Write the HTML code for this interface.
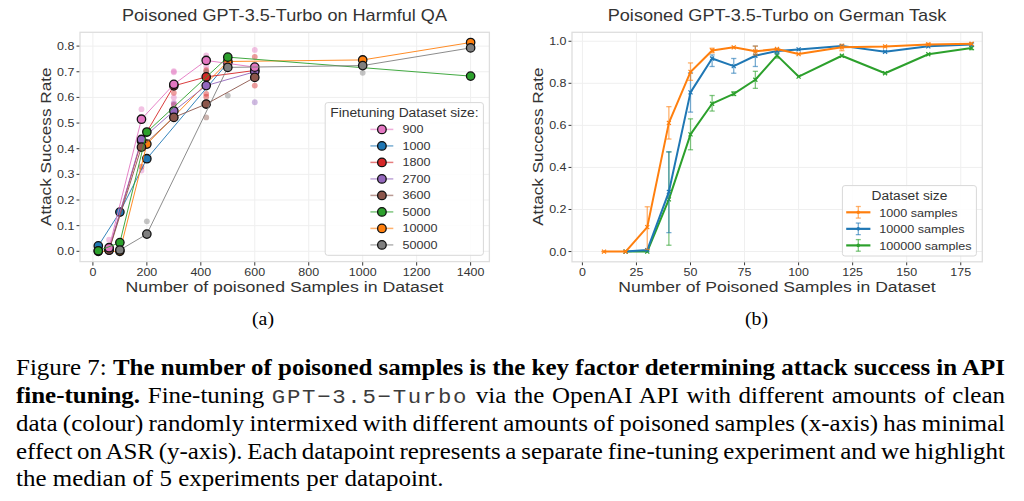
<!DOCTYPE html>
<html><head><meta charset="utf-8"><style>
html,body{margin:0;padding:0;background:#fff;}
body{width:1024px;height:501px;overflow:hidden;position:relative;}
svg{position:absolute;left:0;top:0;font-family:"Liberation Sans", sans-serif;}
.sub{position:absolute;font-family:"Liberation Serif",serif;font-size:19.5px;color:#000;line-height:1;transform:scaleX(1.015);transform-origin:0 0;}
.cap{position:absolute;left:16px;top:0;width:907.3px;font-family:"Liberation Serif",serif;font-size:22.9px;color:#000;transform:scaleX(1.09);transform-origin:0 0;}
.ln{position:absolute;left:0;width:907.34px;white-space:nowrap;text-align:justify;text-align-last:justify;height:28px;line-height:28px;}
.mono{font-family:"Liberation Mono",monospace;font-size:20.5px;letter-spacing:1.55px;color:#3c3c3c;}
b{font-weight:bold;}
</style></head><body>
<svg width="1024" height="320" viewBox="0 0 1024 320">
<line x1="92.90" y1="32.3" x2="92.90" y2="261.6" stroke="#efefef" stroke-width="1"/>
<line x1="146.86" y1="32.3" x2="146.86" y2="261.6" stroke="#efefef" stroke-width="1"/>
<line x1="200.82" y1="32.3" x2="200.82" y2="261.6" stroke="#efefef" stroke-width="1"/>
<line x1="254.78" y1="32.3" x2="254.78" y2="261.6" stroke="#efefef" stroke-width="1"/>
<line x1="308.74" y1="32.3" x2="308.74" y2="261.6" stroke="#efefef" stroke-width="1"/>
<line x1="362.70" y1="32.3" x2="362.70" y2="261.6" stroke="#efefef" stroke-width="1"/>
<line x1="416.66" y1="32.3" x2="416.66" y2="261.6" stroke="#efefef" stroke-width="1"/>
<line x1="470.62" y1="32.3" x2="470.62" y2="261.6" stroke="#efefef" stroke-width="1"/>
<line x1="80.0" y1="251.30" x2="489.4" y2="251.30" stroke="#efefef" stroke-width="1"/>
<line x1="80.0" y1="225.65" x2="489.4" y2="225.65" stroke="#efefef" stroke-width="1"/>
<line x1="80.0" y1="200.00" x2="489.4" y2="200.00" stroke="#efefef" stroke-width="1"/>
<line x1="80.0" y1="174.35" x2="489.4" y2="174.35" stroke="#efefef" stroke-width="1"/>
<line x1="80.0" y1="148.70" x2="489.4" y2="148.70" stroke="#efefef" stroke-width="1"/>
<line x1="80.0" y1="123.05" x2="489.4" y2="123.05" stroke="#efefef" stroke-width="1"/>
<line x1="80.0" y1="97.40" x2="489.4" y2="97.40" stroke="#efefef" stroke-width="1"/>
<line x1="80.0" y1="71.75" x2="489.4" y2="71.75" stroke="#efefef" stroke-width="1"/>
<line x1="80.0" y1="46.10" x2="489.4" y2="46.10" stroke="#efefef" stroke-width="1"/>
<rect x="80.0" y="32.3" width="409.40" height="229.30" fill="none" stroke="#dedede" stroke-width="1.3"/>
<line x1="92.90" y1="262.20000000000005" x2="92.90" y2="265.6" stroke="#3a3a3a" stroke-width="1"/>
<text x="92.90" y="275.80" font-size="11.2" text-anchor="middle" fill="#333333" textLength="6.93" lengthAdjust="spacingAndGlyphs" >0</text>
<line x1="146.86" y1="262.20000000000005" x2="146.86" y2="265.6" stroke="#3a3a3a" stroke-width="1"/>
<text x="146.86" y="275.80" font-size="11.2" text-anchor="middle" fill="#333333" textLength="20.8" lengthAdjust="spacingAndGlyphs" >200</text>
<line x1="200.82" y1="262.20000000000005" x2="200.82" y2="265.6" stroke="#3a3a3a" stroke-width="1"/>
<text x="200.82" y="275.80" font-size="11.2" text-anchor="middle" fill="#333333" textLength="20.8" lengthAdjust="spacingAndGlyphs" >400</text>
<line x1="254.78" y1="262.20000000000005" x2="254.78" y2="265.6" stroke="#3a3a3a" stroke-width="1"/>
<text x="254.78" y="275.80" font-size="11.2" text-anchor="middle" fill="#333333" textLength="20.8" lengthAdjust="spacingAndGlyphs" >600</text>
<line x1="308.74" y1="262.20000000000005" x2="308.74" y2="265.6" stroke="#3a3a3a" stroke-width="1"/>
<text x="308.74" y="275.80" font-size="11.2" text-anchor="middle" fill="#333333" textLength="20.8" lengthAdjust="spacingAndGlyphs" >800</text>
<line x1="362.70" y1="262.20000000000005" x2="362.70" y2="265.6" stroke="#3a3a3a" stroke-width="1"/>
<text x="362.70" y="275.80" font-size="11.2" text-anchor="middle" fill="#333333" textLength="27.74" lengthAdjust="spacingAndGlyphs" >1000</text>
<line x1="416.66" y1="262.20000000000005" x2="416.66" y2="265.6" stroke="#3a3a3a" stroke-width="1"/>
<text x="416.66" y="275.80" font-size="11.2" text-anchor="middle" fill="#333333" textLength="27.74" lengthAdjust="spacingAndGlyphs" >1200</text>
<line x1="470.62" y1="262.20000000000005" x2="470.62" y2="265.6" stroke="#3a3a3a" stroke-width="1"/>
<text x="470.62" y="275.80" font-size="11.2" text-anchor="middle" fill="#333333" textLength="27.74" lengthAdjust="spacingAndGlyphs" >1400</text>
<line x1="76.5" y1="251.30" x2="79.4" y2="251.30" stroke="#3a3a3a" stroke-width="1"/>
<text x="74.40" y="255.30" font-size="11.2" text-anchor="end" fill="#333333" textLength="17.33" lengthAdjust="spacingAndGlyphs" >0.0</text>
<line x1="76.5" y1="225.65" x2="79.4" y2="225.65" stroke="#3a3a3a" stroke-width="1"/>
<text x="74.40" y="229.65" font-size="11.2" text-anchor="end" fill="#333333" textLength="17.33" lengthAdjust="spacingAndGlyphs" >0.1</text>
<line x1="76.5" y1="200.00" x2="79.4" y2="200.00" stroke="#3a3a3a" stroke-width="1"/>
<text x="74.40" y="204.00" font-size="11.2" text-anchor="end" fill="#333333" textLength="17.33" lengthAdjust="spacingAndGlyphs" >0.2</text>
<line x1="76.5" y1="174.35" x2="79.4" y2="174.35" stroke="#3a3a3a" stroke-width="1"/>
<text x="74.40" y="178.35" font-size="11.2" text-anchor="end" fill="#333333" textLength="17.33" lengthAdjust="spacingAndGlyphs" >0.3</text>
<line x1="76.5" y1="148.70" x2="79.4" y2="148.70" stroke="#3a3a3a" stroke-width="1"/>
<text x="74.40" y="152.70" font-size="11.2" text-anchor="end" fill="#333333" textLength="17.33" lengthAdjust="spacingAndGlyphs" >0.4</text>
<line x1="76.5" y1="123.05" x2="79.4" y2="123.05" stroke="#3a3a3a" stroke-width="1"/>
<text x="74.40" y="127.05" font-size="11.2" text-anchor="end" fill="#333333" textLength="17.33" lengthAdjust="spacingAndGlyphs" >0.5</text>
<line x1="76.5" y1="97.40" x2="79.4" y2="97.40" stroke="#3a3a3a" stroke-width="1"/>
<text x="74.40" y="101.40" font-size="11.2" text-anchor="end" fill="#333333" textLength="17.33" lengthAdjust="spacingAndGlyphs" >0.6</text>
<line x1="76.5" y1="71.75" x2="79.4" y2="71.75" stroke="#3a3a3a" stroke-width="1"/>
<text x="74.40" y="75.75" font-size="11.2" text-anchor="end" fill="#333333" textLength="17.33" lengthAdjust="spacingAndGlyphs" >0.7</text>
<line x1="76.5" y1="46.10" x2="79.4" y2="46.10" stroke="#3a3a3a" stroke-width="1"/>
<text x="74.40" y="50.10" font-size="11.2" text-anchor="end" fill="#333333" textLength="17.33" lengthAdjust="spacingAndGlyphs" >0.8</text>
<text x="284.50" y="21.20" font-size="16.6" text-anchor="middle" fill="#333333" textLength="325" lengthAdjust="spacingAndGlyphs" >Poisoned GPT-3.5-Turbo on Harmful QA</text>
<text x="284.50" y="291.70" font-size="15.4" text-anchor="middle" fill="#333333" textLength="318" lengthAdjust="spacingAndGlyphs" >Number of poisoned Samples in Dataset</text>
<text x="0" y="0" font-size="15.3" text-anchor="middle" fill="#333333" textLength="158.5" lengthAdjust="spacingAndGlyphs" transform="translate(51.0 146.7) rotate(-90)">Attack Success Rate</text>
<circle cx="109.09" cy="239.76" r="2.9" fill="#e377c2" fill-opacity="0.45"/>
<circle cx="141.46" cy="109.20" r="2.9" fill="#e377c2" fill-opacity="0.45"/>
<circle cx="141.46" cy="170.50" r="2.9" fill="#e377c2" fill-opacity="0.45"/>
<circle cx="173.84" cy="71.24" r="2.9" fill="#e377c2" fill-opacity="0.45"/>
<circle cx="173.84" cy="72.26" r="2.9" fill="#e377c2" fill-opacity="0.45"/>
<circle cx="206.22" cy="55.33" r="2.9" fill="#e377c2" fill-opacity="0.45"/>
<circle cx="254.78" cy="49.95" r="2.9" fill="#e377c2" fill-opacity="0.45"/>
<circle cx="173.84" cy="102.53" r="2.9" fill="#e377c2" fill-opacity="0.45"/>
<circle cx="173.84" cy="97.40" r="2.9" fill="#e377c2" fill-opacity="0.45"/>
<circle cx="206.22" cy="66.62" r="2.9" fill="#e377c2" fill-opacity="0.45"/>
<circle cx="173.84" cy="92.78" r="2.9" fill="#d62728" fill-opacity="0.45"/>
<circle cx="173.84" cy="104.84" r="2.9" fill="#d62728" fill-opacity="0.45"/>
<circle cx="206.22" cy="70.21" r="2.9" fill="#d62728" fill-opacity="0.45"/>
<circle cx="206.22" cy="93.81" r="2.9" fill="#d62728" fill-opacity="0.45"/>
<circle cx="206.22" cy="96.63" r="2.9" fill="#d62728" fill-opacity="0.45"/>
<circle cx="254.78" cy="56.87" r="2.9" fill="#d62728" fill-opacity="0.45"/>
<circle cx="254.78" cy="85.60" r="2.9" fill="#d62728" fill-opacity="0.45"/>
<circle cx="141.46" cy="166.66" r="2.9" fill="#d62728" fill-opacity="0.45"/>
<circle cx="206.22" cy="117.41" r="2.9" fill="#8c564b" fill-opacity="0.45"/>
<circle cx="206.22" cy="71.75" r="2.9" fill="#8c564b" fill-opacity="0.45"/>
<circle cx="254.78" cy="102.27" r="2.9" fill="#9467bd" fill-opacity="0.45"/>
<circle cx="173.84" cy="103.81" r="2.9" fill="#9467bd" fill-opacity="0.45"/>
<circle cx="146.86" cy="221.29" r="2.9" fill="#7f7f7f" fill-opacity="0.45"/>
<circle cx="227.80" cy="95.60" r="2.9" fill="#7f7f7f" fill-opacity="0.45"/>
<circle cx="362.70" cy="72.78" r="2.9" fill="#7f7f7f" fill-opacity="0.45"/>
<path d="M98.30 245.91 L119.88 212.06 L146.86 158.70 L227.80 62.77" fill="none" stroke="#1f77b4" stroke-width="1.0" stroke-opacity="0.9"/>
<circle cx="98.30" cy="245.91" r="4.2" fill="#1f77b4" stroke="#111" stroke-width="1.3"/>
<circle cx="119.88" cy="212.06" r="4.2" fill="#1f77b4" stroke="#111" stroke-width="1.3"/>
<circle cx="146.86" cy="158.70" r="4.2" fill="#1f77b4" stroke="#111" stroke-width="1.3"/>
<circle cx="227.80" cy="62.77" r="4.2" fill="#1f77b4" stroke="#111" stroke-width="1.3"/>
<path d="M98.30 251.30 L119.88 251.30 L146.86 144.08 L227.80 61.49 L362.70 59.95 L470.62 42.51" fill="none" stroke="#ff7f0e" stroke-width="1.0" stroke-opacity="0.9"/>
<circle cx="98.30" cy="251.30" r="4.2" fill="#ff7f0e" stroke="#111" stroke-width="1.3"/>
<circle cx="119.88" cy="251.30" r="4.2" fill="#ff7f0e" stroke="#111" stroke-width="1.3"/>
<circle cx="146.86" cy="144.08" r="4.2" fill="#ff7f0e" stroke="#111" stroke-width="1.3"/>
<circle cx="227.80" cy="61.49" r="4.2" fill="#ff7f0e" stroke="#111" stroke-width="1.3"/>
<circle cx="362.70" cy="59.95" r="4.2" fill="#ff7f0e" stroke="#111" stroke-width="1.3"/>
<circle cx="470.62" cy="42.51" r="4.2" fill="#ff7f0e" stroke="#111" stroke-width="1.3"/>
<path d="M109.09 249.76 L141.46 141.00 L173.84 85.86 L206.22 76.88 L254.78 70.47" fill="none" stroke="#d62728" stroke-width="1.0" stroke-opacity="0.9"/>
<circle cx="109.09" cy="249.76" r="4.2" fill="#d62728" stroke="#111" stroke-width="1.3"/>
<circle cx="141.46" cy="141.00" r="4.2" fill="#d62728" stroke="#111" stroke-width="1.3"/>
<circle cx="173.84" cy="85.86" r="4.2" fill="#d62728" stroke="#111" stroke-width="1.3"/>
<circle cx="206.22" cy="76.88" r="4.2" fill="#d62728" stroke="#111" stroke-width="1.3"/>
<circle cx="254.78" cy="70.47" r="4.2" fill="#d62728" stroke="#111" stroke-width="1.3"/>
<path d="M109.09 249.25 L141.46 139.47 L173.84 110.99 L206.22 85.60 L254.78 71.75" fill="none" stroke="#9467bd" stroke-width="1.0" stroke-opacity="0.9"/>
<circle cx="109.09" cy="249.25" r="4.2" fill="#9467bd" stroke="#111" stroke-width="1.3"/>
<circle cx="141.46" cy="139.47" r="4.2" fill="#9467bd" stroke="#111" stroke-width="1.3"/>
<circle cx="173.84" cy="110.99" r="4.2" fill="#9467bd" stroke="#111" stroke-width="1.3"/>
<circle cx="206.22" cy="85.60" r="4.2" fill="#9467bd" stroke="#111" stroke-width="1.3"/>
<circle cx="254.78" cy="71.75" r="4.2" fill="#9467bd" stroke="#111" stroke-width="1.3"/>
<path d="M109.09 250.27 L141.46 147.16 L173.84 117.41 L206.22 104.07 L254.78 77.39" fill="none" stroke="#8c564b" stroke-width="1.0" stroke-opacity="0.9"/>
<circle cx="109.09" cy="250.27" r="4.2" fill="#8c564b" stroke="#111" stroke-width="1.3"/>
<circle cx="141.46" cy="147.16" r="4.2" fill="#8c564b" stroke="#111" stroke-width="1.3"/>
<circle cx="173.84" cy="117.41" r="4.2" fill="#8c564b" stroke="#111" stroke-width="1.3"/>
<circle cx="206.22" cy="104.07" r="4.2" fill="#8c564b" stroke="#111" stroke-width="1.3"/>
<circle cx="254.78" cy="77.39" r="4.2" fill="#8c564b" stroke="#111" stroke-width="1.3"/>
<path d="M109.09 247.71 L141.46 119.20 L173.84 84.32 L206.22 60.46 L254.78 67.13" fill="none" stroke="#e377c2" stroke-width="1.0" stroke-opacity="0.9"/>
<circle cx="109.09" cy="247.71" r="4.2" fill="#e377c2" stroke="#111" stroke-width="1.3"/>
<circle cx="141.46" cy="119.20" r="4.2" fill="#e377c2" stroke="#111" stroke-width="1.3"/>
<circle cx="173.84" cy="84.32" r="4.2" fill="#e377c2" stroke="#111" stroke-width="1.3"/>
<circle cx="206.22" cy="60.46" r="4.2" fill="#e377c2" stroke="#111" stroke-width="1.3"/>
<circle cx="254.78" cy="67.13" r="4.2" fill="#e377c2" stroke="#111" stroke-width="1.3"/>
<path d="M98.30 250.79 L119.88 242.58 L146.86 132.03 L227.80 57.13 L470.62 76.11" fill="none" stroke="#2ca02c" stroke-width="1.0" stroke-opacity="0.9"/>
<circle cx="98.30" cy="250.79" r="4.2" fill="#2ca02c" stroke="#111" stroke-width="1.3"/>
<circle cx="119.88" cy="242.58" r="4.2" fill="#2ca02c" stroke="#111" stroke-width="1.3"/>
<circle cx="146.86" cy="132.03" r="4.2" fill="#2ca02c" stroke="#111" stroke-width="1.3"/>
<circle cx="227.80" cy="57.13" r="4.2" fill="#2ca02c" stroke="#111" stroke-width="1.3"/>
<circle cx="470.62" cy="76.11" r="4.2" fill="#2ca02c" stroke="#111" stroke-width="1.3"/>
<path d="M119.88 250.02 L146.86 234.11 L227.80 67.39 L362.70 65.59 L470.62 47.90" fill="none" stroke="#7f7f7f" stroke-width="1.0" stroke-opacity="0.9"/>
<circle cx="119.88" cy="250.02" r="4.2" fill="#7f7f7f" stroke="#111" stroke-width="1.3"/>
<circle cx="146.86" cy="234.11" r="4.2" fill="#7f7f7f" stroke="#111" stroke-width="1.3"/>
<circle cx="227.80" cy="67.39" r="4.2" fill="#7f7f7f" stroke="#111" stroke-width="1.3"/>
<circle cx="362.70" cy="65.59" r="4.2" fill="#7f7f7f" stroke="#111" stroke-width="1.3"/>
<circle cx="470.62" cy="47.90" r="4.2" fill="#7f7f7f" stroke="#111" stroke-width="1.3"/>
<rect x="325.2" y="102.6" width="158.2" height="152.7" rx="2.5" fill="#ffffff" fill-opacity="0.85" stroke="#d8d8d8" stroke-width="1"/>
<text x="404.40" y="116.50" font-size="12.3" text-anchor="middle" fill="#333333" textLength="148.4" lengthAdjust="spacingAndGlyphs" >Finetuning Dataset size:</text>
<line x1="370.4" y1="129.40" x2="393.3" y2="129.40" stroke="#e377c2" stroke-opacity="0.6" stroke-width="1.5"/>
<circle cx="381.9" cy="129.40" r="4.3" fill="#e377c2" stroke="#111" stroke-width="1.3"/>
<text x="402.60" y="133.40" font-size="11.3" text-anchor="start" fill="#333333" textLength="21.0" lengthAdjust="spacingAndGlyphs" >900</text>
<line x1="370.4" y1="145.90" x2="393.3" y2="145.90" stroke="#1f77b4" stroke-opacity="0.6" stroke-width="1.5"/>
<circle cx="381.9" cy="145.90" r="4.3" fill="#1f77b4" stroke="#111" stroke-width="1.3"/>
<text x="402.60" y="149.90" font-size="11.3" text-anchor="start" fill="#333333" textLength="27.99" lengthAdjust="spacingAndGlyphs" >1000</text>
<line x1="370.4" y1="162.40" x2="393.3" y2="162.40" stroke="#d62728" stroke-opacity="0.6" stroke-width="1.5"/>
<circle cx="381.9" cy="162.40" r="4.3" fill="#d62728" stroke="#111" stroke-width="1.3"/>
<text x="402.60" y="166.40" font-size="11.3" text-anchor="start" fill="#333333" textLength="27.99" lengthAdjust="spacingAndGlyphs" >1800</text>
<line x1="370.4" y1="178.90" x2="393.3" y2="178.90" stroke="#9467bd" stroke-opacity="0.6" stroke-width="1.5"/>
<circle cx="381.9" cy="178.90" r="4.3" fill="#9467bd" stroke="#111" stroke-width="1.3"/>
<text x="402.60" y="182.90" font-size="11.3" text-anchor="start" fill="#333333" textLength="27.99" lengthAdjust="spacingAndGlyphs" >2700</text>
<line x1="370.4" y1="195.40" x2="393.3" y2="195.40" stroke="#8c564b" stroke-opacity="0.6" stroke-width="1.5"/>
<circle cx="381.9" cy="195.40" r="4.3" fill="#8c564b" stroke="#111" stroke-width="1.3"/>
<text x="402.60" y="199.40" font-size="11.3" text-anchor="start" fill="#333333" textLength="27.99" lengthAdjust="spacingAndGlyphs" >3600</text>
<line x1="370.4" y1="211.90" x2="393.3" y2="211.90" stroke="#2ca02c" stroke-opacity="0.6" stroke-width="1.5"/>
<circle cx="381.9" cy="211.90" r="4.3" fill="#2ca02c" stroke="#111" stroke-width="1.3"/>
<text x="402.60" y="215.90" font-size="11.3" text-anchor="start" fill="#333333" textLength="27.99" lengthAdjust="spacingAndGlyphs" >5000</text>
<line x1="370.4" y1="228.40" x2="393.3" y2="228.40" stroke="#ff7f0e" stroke-opacity="0.6" stroke-width="1.5"/>
<circle cx="381.9" cy="228.40" r="4.3" fill="#ff7f0e" stroke="#111" stroke-width="1.3"/>
<text x="402.60" y="232.40" font-size="11.3" text-anchor="start" fill="#333333" textLength="34.99" lengthAdjust="spacingAndGlyphs" >10000</text>
<line x1="370.4" y1="244.90" x2="393.3" y2="244.90" stroke="#7f7f7f" stroke-opacity="0.6" stroke-width="1.5"/>
<circle cx="381.9" cy="244.90" r="4.3" fill="#7f7f7f" stroke="#111" stroke-width="1.3"/>
<text x="402.60" y="248.90" font-size="11.3" text-anchor="start" fill="#333333" textLength="34.99" lengthAdjust="spacingAndGlyphs" >50000</text>
<line x1="582.40" y1="32.3" x2="582.40" y2="261.8" stroke="#efefef" stroke-width="1"/>
<line x1="636.45" y1="32.3" x2="636.45" y2="261.8" stroke="#efefef" stroke-width="1"/>
<line x1="690.50" y1="32.3" x2="690.50" y2="261.8" stroke="#efefef" stroke-width="1"/>
<line x1="744.55" y1="32.3" x2="744.55" y2="261.8" stroke="#efefef" stroke-width="1"/>
<line x1="798.60" y1="32.3" x2="798.60" y2="261.8" stroke="#efefef" stroke-width="1"/>
<line x1="852.65" y1="32.3" x2="852.65" y2="261.8" stroke="#efefef" stroke-width="1"/>
<line x1="906.70" y1="32.3" x2="906.70" y2="261.8" stroke="#efefef" stroke-width="1"/>
<line x1="960.75" y1="32.3" x2="960.75" y2="261.8" stroke="#efefef" stroke-width="1"/>
<line x1="572.0" y1="251.55" x2="982.3" y2="251.55" stroke="#efefef" stroke-width="1"/>
<line x1="572.0" y1="209.49" x2="982.3" y2="209.49" stroke="#efefef" stroke-width="1"/>
<line x1="572.0" y1="167.43" x2="982.3" y2="167.43" stroke="#efefef" stroke-width="1"/>
<line x1="572.0" y1="125.37" x2="982.3" y2="125.37" stroke="#efefef" stroke-width="1"/>
<line x1="572.0" y1="83.31" x2="982.3" y2="83.31" stroke="#efefef" stroke-width="1"/>
<line x1="572.0" y1="41.25" x2="982.3" y2="41.25" stroke="#efefef" stroke-width="1"/>
<rect x="572.0" y="32.3" width="410.30" height="229.50" fill="none" stroke="#dedede" stroke-width="1.3"/>
<line x1="582.40" y1="262.40000000000003" x2="582.40" y2="265.3" stroke="#3a3a3a" stroke-width="1"/>
<text x="582.40" y="275.80" font-size="11.2" text-anchor="middle" fill="#333333" textLength="6.93" lengthAdjust="spacingAndGlyphs" >0</text>
<line x1="636.45" y1="262.40000000000003" x2="636.45" y2="265.3" stroke="#3a3a3a" stroke-width="1"/>
<text x="636.45" y="275.80" font-size="11.2" text-anchor="middle" fill="#333333" textLength="13.87" lengthAdjust="spacingAndGlyphs" >25</text>
<line x1="690.50" y1="262.40000000000003" x2="690.50" y2="265.3" stroke="#3a3a3a" stroke-width="1"/>
<text x="690.50" y="275.80" font-size="11.2" text-anchor="middle" fill="#333333" textLength="13.87" lengthAdjust="spacingAndGlyphs" >50</text>
<line x1="744.55" y1="262.40000000000003" x2="744.55" y2="265.3" stroke="#3a3a3a" stroke-width="1"/>
<text x="744.55" y="275.80" font-size="11.2" text-anchor="middle" fill="#333333" textLength="13.87" lengthAdjust="spacingAndGlyphs" >75</text>
<line x1="798.60" y1="262.40000000000003" x2="798.60" y2="265.3" stroke="#3a3a3a" stroke-width="1"/>
<text x="798.60" y="275.80" font-size="11.2" text-anchor="middle" fill="#333333" textLength="20.8" lengthAdjust="spacingAndGlyphs" >100</text>
<line x1="852.65" y1="262.40000000000003" x2="852.65" y2="265.3" stroke="#3a3a3a" stroke-width="1"/>
<text x="852.65" y="275.80" font-size="11.2" text-anchor="middle" fill="#333333" textLength="20.8" lengthAdjust="spacingAndGlyphs" >125</text>
<line x1="906.70" y1="262.40000000000003" x2="906.70" y2="265.3" stroke="#3a3a3a" stroke-width="1"/>
<text x="906.70" y="275.80" font-size="11.2" text-anchor="middle" fill="#333333" textLength="20.8" lengthAdjust="spacingAndGlyphs" >150</text>
<line x1="960.75" y1="262.40000000000003" x2="960.75" y2="265.3" stroke="#3a3a3a" stroke-width="1"/>
<text x="960.75" y="275.80" font-size="11.2" text-anchor="middle" fill="#333333" textLength="20.8" lengthAdjust="spacingAndGlyphs" >175</text>
<line x1="568.5" y1="251.55" x2="571.4" y2="251.55" stroke="#3a3a3a" stroke-width="1"/>
<text x="566.50" y="255.55" font-size="11.2" text-anchor="end" fill="#333333" textLength="17.33" lengthAdjust="spacingAndGlyphs" >0.0</text>
<line x1="568.5" y1="209.49" x2="571.4" y2="209.49" stroke="#3a3a3a" stroke-width="1"/>
<text x="566.50" y="213.49" font-size="11.2" text-anchor="end" fill="#333333" textLength="17.33" lengthAdjust="spacingAndGlyphs" >0.2</text>
<line x1="568.5" y1="167.43" x2="571.4" y2="167.43" stroke="#3a3a3a" stroke-width="1"/>
<text x="566.50" y="171.43" font-size="11.2" text-anchor="end" fill="#333333" textLength="17.33" lengthAdjust="spacingAndGlyphs" >0.4</text>
<line x1="568.5" y1="125.37" x2="571.4" y2="125.37" stroke="#3a3a3a" stroke-width="1"/>
<text x="566.50" y="129.37" font-size="11.2" text-anchor="end" fill="#333333" textLength="17.33" lengthAdjust="spacingAndGlyphs" >0.6</text>
<line x1="568.5" y1="83.31" x2="571.4" y2="83.31" stroke="#3a3a3a" stroke-width="1"/>
<text x="566.50" y="87.31" font-size="11.2" text-anchor="end" fill="#333333" textLength="17.33" lengthAdjust="spacingAndGlyphs" >0.8</text>
<line x1="568.5" y1="41.25" x2="571.4" y2="41.25" stroke="#3a3a3a" stroke-width="1"/>
<text x="566.50" y="45.25" font-size="11.2" text-anchor="end" fill="#333333" textLength="17.33" lengthAdjust="spacingAndGlyphs" >1.0</text>
<text x="777.00" y="21.20" font-size="16.6" text-anchor="middle" fill="#333333" textLength="338.6" lengthAdjust="spacingAndGlyphs" >Poisoned GPT-3.5-Turbo on German Task</text>
<text x="777.00" y="291.70" font-size="15.4" text-anchor="middle" fill="#333333" textLength="317.5" lengthAdjust="spacingAndGlyphs" >Number of Poisoned Samples in Dataset</text>
<text x="0" y="0" font-size="15.3" text-anchor="middle" fill="#333333" textLength="158.5" lengthAdjust="spacingAndGlyphs" transform="translate(543.0 146.6) rotate(-90)">Attack Success Rate</text>
<g stroke="#2ca02c" stroke-opacity="0.6" stroke-width="1.3"><line x1="668.88" y1="245.24" x2="668.88" y2="151.87"/><line x1="666.28" y1="245.24" x2="671.48" y2="245.24"/><line x1="666.28" y1="151.87" x2="671.48" y2="151.87"/></g>
<g stroke="#2ca02c" stroke-opacity="0.6" stroke-width="1.3"><line x1="690.50" y1="149.76" x2="690.50" y2="118.85"/><line x1="687.90" y1="149.76" x2="693.10" y2="149.76"/><line x1="687.90" y1="118.85" x2="693.10" y2="118.85"/></g>
<g stroke="#2ca02c" stroke-opacity="0.6" stroke-width="1.3"><line x1="712.12" y1="111.07" x2="712.12" y2="95.51"/><line x1="709.52" y1="111.07" x2="714.72" y2="111.07"/><line x1="709.52" y1="95.51" x2="714.72" y2="95.51"/></g>
<g stroke="#2ca02c" stroke-opacity="0.6" stroke-width="1.3"><line x1="733.74" y1="95.51" x2="733.74" y2="91.72"/><line x1="731.14" y1="95.51" x2="736.34" y2="95.51"/><line x1="731.14" y1="91.72" x2="736.34" y2="91.72"/></g>
<g stroke="#2ca02c" stroke-opacity="0.6" stroke-width="1.3"><line x1="755.36" y1="88.36" x2="755.36" y2="71.32"/><line x1="752.76" y1="88.36" x2="757.96" y2="88.36"/><line x1="752.76" y1="71.32" x2="757.96" y2="71.32"/></g>
<g stroke="#2ca02c" stroke-opacity="0.6" stroke-width="1.3"><line x1="776.98" y1="58.07" x2="776.98" y2="52.82"/><line x1="774.38" y1="58.07" x2="779.58" y2="58.07"/><line x1="774.38" y1="52.82" x2="779.58" y2="52.82"/></g>
<g stroke="#2ca02c" stroke-opacity="0.6" stroke-width="1.3"><line x1="971.56" y1="49.66" x2="971.56" y2="46.51"/><line x1="968.96" y1="49.66" x2="974.16" y2="49.66"/><line x1="968.96" y1="46.51" x2="974.16" y2="46.51"/></g>
<path d="M625.64 251.55 L647.26 251.55 L668.88 199.40 L690.50 134.41 L712.12 103.71 L733.74 93.82 L755.36 79.73 L776.98 55.34 L798.60 76.58 L841.84 55.76 L885.08 73.22 L928.32 54.29 L971.56 47.98" fill="none" stroke="#2ca02c" stroke-width="2.0" stroke-linejoin="round"/>
<path d="M623.64 249.55 L627.64 253.55 M623.64 253.55 L627.64 249.55" stroke="#2ca02c" stroke-width="1.2"/>
<path d="M645.26 249.55 L649.26 253.55 M645.26 253.55 L649.26 249.55" stroke="#2ca02c" stroke-width="1.2"/>
<path d="M666.88 197.40 L670.88 201.40 M666.88 201.40 L670.88 197.40" stroke="#2ca02c" stroke-width="1.2"/>
<path d="M688.50 132.41 L692.50 136.41 M688.50 136.41 L692.50 132.41" stroke="#2ca02c" stroke-width="1.2"/>
<path d="M710.12 101.71 L714.12 105.71 M710.12 105.71 L714.12 101.71" stroke="#2ca02c" stroke-width="1.2"/>
<path d="M731.74 91.82 L735.74 95.82 M731.74 95.82 L735.74 91.82" stroke="#2ca02c" stroke-width="1.2"/>
<path d="M753.36 77.73 L757.36 81.73 M753.36 81.73 L757.36 77.73" stroke="#2ca02c" stroke-width="1.2"/>
<path d="M774.98 53.34 L778.98 57.34 M774.98 57.34 L778.98 53.34" stroke="#2ca02c" stroke-width="1.2"/>
<path d="M796.60 74.58 L800.60 78.58 M796.60 78.58 L800.60 74.58" stroke="#2ca02c" stroke-width="1.2"/>
<path d="M839.84 53.76 L843.84 57.76 M839.84 57.76 L843.84 53.76" stroke="#2ca02c" stroke-width="1.2"/>
<path d="M883.08 71.22 L887.08 75.22 M883.08 75.22 L887.08 71.22" stroke="#2ca02c" stroke-width="1.2"/>
<path d="M926.32 52.29 L930.32 56.29 M926.32 56.29 L930.32 52.29" stroke="#2ca02c" stroke-width="1.2"/>
<path d="M969.56 45.98 L973.56 49.98 M969.56 49.98 L973.56 45.98" stroke="#2ca02c" stroke-width="1.2"/>
<g stroke="#1f77b4" stroke-opacity="0.6" stroke-width="1.3"><line x1="668.88" y1="232.62" x2="668.88" y2="151.87"/><line x1="666.28" y1="232.62" x2="671.48" y2="232.62"/><line x1="666.28" y1="151.87" x2="671.48" y2="151.87"/></g>
<g stroke="#1f77b4" stroke-opacity="0.6" stroke-width="1.3"><line x1="690.50" y1="112.12" x2="690.50" y2="72.80"/><line x1="687.90" y1="112.12" x2="693.10" y2="112.12"/><line x1="687.90" y1="72.80" x2="693.10" y2="72.80"/></g>
<g stroke="#1f77b4" stroke-opacity="0.6" stroke-width="1.3"><line x1="712.12" y1="66.49" x2="712.12" y2="54.92"/><line x1="709.52" y1="66.49" x2="714.72" y2="66.49"/><line x1="709.52" y1="54.92" x2="714.72" y2="54.92"/></g>
<g stroke="#1f77b4" stroke-opacity="0.6" stroke-width="1.3"><line x1="733.74" y1="73.22" x2="733.74" y2="58.49"/><line x1="731.14" y1="73.22" x2="736.34" y2="73.22"/><line x1="731.14" y1="58.49" x2="736.34" y2="58.49"/></g>
<g stroke="#1f77b4" stroke-opacity="0.6" stroke-width="1.3"><line x1="755.36" y1="66.49" x2="755.36" y2="46.09"/><line x1="752.76" y1="66.49" x2="757.96" y2="66.49"/><line x1="752.76" y1="46.09" x2="757.96" y2="46.09"/></g>
<g stroke="#1f77b4" stroke-opacity="0.6" stroke-width="1.3"><line x1="776.98" y1="53.87" x2="776.98" y2="48.61"/><line x1="774.38" y1="53.87" x2="779.58" y2="53.87"/><line x1="774.38" y1="48.61" x2="779.58" y2="48.61"/></g>
<g stroke="#1f77b4" stroke-opacity="0.6" stroke-width="1.3"><line x1="971.56" y1="45.88" x2="971.56" y2="42.93"/><line x1="968.96" y1="45.88" x2="974.16" y2="45.88"/><line x1="968.96" y1="42.93" x2="974.16" y2="42.93"/></g>
<path d="M625.64 251.55 L647.26 250.08 L668.88 191.82 L690.50 92.35 L712.12 58.49 L733.74 66.07 L755.36 55.76 L776.98 50.92 L798.60 49.45 L841.84 45.88 L885.08 51.77 L928.32 46.30 L971.56 44.40" fill="none" stroke="#1f77b4" stroke-width="2.0" stroke-linejoin="round"/>
<path d="M623.64 249.55 L627.64 253.55 M623.64 253.55 L627.64 249.55" stroke="#1f77b4" stroke-width="1.2"/>
<path d="M645.26 248.08 L649.26 252.08 M645.26 252.08 L649.26 248.08" stroke="#1f77b4" stroke-width="1.2"/>
<path d="M666.88 189.82 L670.88 193.82 M666.88 193.82 L670.88 189.82" stroke="#1f77b4" stroke-width="1.2"/>
<path d="M688.50 90.35 L692.50 94.35 M688.50 94.35 L692.50 90.35" stroke="#1f77b4" stroke-width="1.2"/>
<path d="M710.12 56.49 L714.12 60.49 M710.12 60.49 L714.12 56.49" stroke="#1f77b4" stroke-width="1.2"/>
<path d="M731.74 64.07 L735.74 68.07 M731.74 68.07 L735.74 64.07" stroke="#1f77b4" stroke-width="1.2"/>
<path d="M753.36 53.76 L757.36 57.76 M753.36 57.76 L757.36 53.76" stroke="#1f77b4" stroke-width="1.2"/>
<path d="M774.98 48.92 L778.98 52.92 M774.98 52.92 L778.98 48.92" stroke="#1f77b4" stroke-width="1.2"/>
<path d="M796.60 47.45 L800.60 51.45 M796.60 51.45 L800.60 47.45" stroke="#1f77b4" stroke-width="1.2"/>
<path d="M839.84 43.88 L843.84 47.88 M839.84 47.88 L843.84 43.88" stroke="#1f77b4" stroke-width="1.2"/>
<path d="M883.08 49.77 L887.08 53.77 M883.08 53.77 L887.08 49.77" stroke="#1f77b4" stroke-width="1.2"/>
<path d="M926.32 44.30 L930.32 48.30 M926.32 48.30 L930.32 44.30" stroke="#1f77b4" stroke-width="1.2"/>
<path d="M969.56 42.40 L973.56 46.40 M969.56 46.40 L973.56 42.40" stroke="#1f77b4" stroke-width="1.2"/>
<g stroke="#ff7f0e" stroke-opacity="0.6" stroke-width="1.3"><line x1="604.02" y1="251.55" x2="604.02" y2="251.55"/><line x1="601.42" y1="251.55" x2="606.62" y2="251.55"/><line x1="601.42" y1="251.55" x2="606.62" y2="251.55"/></g>
<g stroke="#ff7f0e" stroke-opacity="0.6" stroke-width="1.3"><line x1="647.26" y1="249.45" x2="647.26" y2="206.76"/><line x1="644.66" y1="249.45" x2="649.86" y2="249.45"/><line x1="644.66" y1="206.76" x2="649.86" y2="206.76"/></g>
<g stroke="#ff7f0e" stroke-opacity="0.6" stroke-width="1.3"><line x1="668.88" y1="139.04" x2="668.88" y2="106.65"/><line x1="666.28" y1="139.04" x2="671.48" y2="139.04"/><line x1="666.28" y1="106.65" x2="671.48" y2="106.65"/></g>
<g stroke="#ff7f0e" stroke-opacity="0.6" stroke-width="1.3"><line x1="690.50" y1="80.37" x2="690.50" y2="62.91"/><line x1="687.90" y1="80.37" x2="693.10" y2="80.37"/><line x1="687.90" y1="62.91" x2="693.10" y2="62.91"/></g>
<g stroke="#ff7f0e" stroke-opacity="0.6" stroke-width="1.3"><line x1="712.12" y1="52.82" x2="712.12" y2="48.19"/><line x1="709.52" y1="52.82" x2="714.72" y2="52.82"/><line x1="709.52" y1="48.19" x2="714.72" y2="48.19"/></g>
<g stroke="#ff7f0e" stroke-opacity="0.6" stroke-width="1.3"><line x1="755.36" y1="54.92" x2="755.36" y2="46.09"/><line x1="752.76" y1="54.92" x2="757.96" y2="54.92"/><line x1="752.76" y1="46.09" x2="757.96" y2="46.09"/></g>
<g stroke="#ff7f0e" stroke-opacity="0.6" stroke-width="1.3"><line x1="841.84" y1="50.71" x2="841.84" y2="44.40"/><line x1="839.24" y1="50.71" x2="844.44" y2="50.71"/><line x1="839.24" y1="44.40" x2="844.44" y2="44.40"/></g>
<g stroke="#ff7f0e" stroke-opacity="0.6" stroke-width="1.3"><line x1="928.32" y1="45.46" x2="928.32" y2="43.35"/><line x1="925.72" y1="45.46" x2="930.92" y2="45.46"/><line x1="925.72" y1="43.35" x2="930.92" y2="43.35"/></g>
<path d="M604.02 251.55 L625.64 251.55 L647.26 227.16 L668.88 122.85 L690.50 71.95 L712.12 50.50 L733.74 47.35 L755.36 51.34 L776.98 49.03 L798.60 54.08 L841.84 47.35 L885.08 46.51 L928.32 44.40 L971.56 43.77" fill="none" stroke="#ff7f0e" stroke-width="2.0" stroke-linejoin="round"/>
<path d="M602.02 249.55 L606.02 253.55 M602.02 253.55 L606.02 249.55" stroke="#ff7f0e" stroke-width="1.2"/>
<path d="M623.64 249.55 L627.64 253.55 M623.64 253.55 L627.64 249.55" stroke="#ff7f0e" stroke-width="1.2"/>
<path d="M645.26 225.16 L649.26 229.16 M645.26 229.16 L649.26 225.16" stroke="#ff7f0e" stroke-width="1.2"/>
<path d="M666.88 120.85 L670.88 124.85 M666.88 124.85 L670.88 120.85" stroke="#ff7f0e" stroke-width="1.2"/>
<path d="M688.50 69.95 L692.50 73.95 M688.50 73.95 L692.50 69.95" stroke="#ff7f0e" stroke-width="1.2"/>
<path d="M710.12 48.50 L714.12 52.50 M710.12 52.50 L714.12 48.50" stroke="#ff7f0e" stroke-width="1.2"/>
<path d="M731.74 45.35 L735.74 49.35 M731.74 49.35 L735.74 45.35" stroke="#ff7f0e" stroke-width="1.2"/>
<path d="M753.36 49.34 L757.36 53.34 M753.36 53.34 L757.36 49.34" stroke="#ff7f0e" stroke-width="1.2"/>
<path d="M774.98 47.03 L778.98 51.03 M774.98 51.03 L778.98 47.03" stroke="#ff7f0e" stroke-width="1.2"/>
<path d="M796.60 52.08 L800.60 56.08 M796.60 56.08 L800.60 52.08" stroke="#ff7f0e" stroke-width="1.2"/>
<path d="M839.84 45.35 L843.84 49.35 M839.84 49.35 L843.84 45.35" stroke="#ff7f0e" stroke-width="1.2"/>
<path d="M883.08 44.51 L887.08 48.51 M883.08 48.51 L887.08 44.51" stroke="#ff7f0e" stroke-width="1.2"/>
<path d="M926.32 42.40 L930.32 46.40 M926.32 46.40 L930.32 42.40" stroke="#ff7f0e" stroke-width="1.2"/>
<path d="M969.56 41.77 L973.56 45.77 M969.56 45.77 L973.56 41.77" stroke="#ff7f0e" stroke-width="1.2"/>
<rect x="842.4" y="185.6" width="134" height="70.4" rx="2.5" fill="#ffffff" fill-opacity="0.85" stroke="#d8d8d8" stroke-width="1"/>
<text x="909.50" y="200.00" font-size="12.3" text-anchor="middle" fill="#333333" textLength="75.8" lengthAdjust="spacingAndGlyphs" >Dataset size</text>
<line x1="846.2" y1="212.30" x2="870.4" y2="212.30" stroke="#ff7f0e" stroke-width="2.2"/>
<g stroke="#ff7f0e" stroke-opacity="0.6" stroke-width="1.3"><line x1="858.3" y1="206.50" x2="858.3" y2="218.10"/><line x1="855.8" y1="206.50" x2="860.8" y2="206.50"/><line x1="855.8" y1="218.10" x2="860.8" y2="218.10"/></g>
<circle cx="858.3" cy="212.30" r="1.8" fill="#ff7f0e"/>
<text x="879.20" y="216.70" font-size="11.3" text-anchor="start" fill="#333333" textLength="78.27" lengthAdjust="spacingAndGlyphs" >1000 samples</text>
<line x1="846.2" y1="228.85" x2="870.4" y2="228.85" stroke="#1f77b4" stroke-width="2.2"/>
<g stroke="#1f77b4" stroke-opacity="0.6" stroke-width="1.3"><line x1="858.3" y1="223.05" x2="858.3" y2="234.65"/><line x1="855.8" y1="223.05" x2="860.8" y2="223.05"/><line x1="855.8" y1="234.65" x2="860.8" y2="234.65"/></g>
<circle cx="858.3" cy="228.85" r="1.8" fill="#1f77b4"/>
<text x="879.20" y="233.25" font-size="11.3" text-anchor="start" fill="#333333" textLength="85.36" lengthAdjust="spacingAndGlyphs" >10000 samples</text>
<line x1="846.2" y1="245.40" x2="870.4" y2="245.40" stroke="#2ca02c" stroke-width="2.2"/>
<g stroke="#2ca02c" stroke-opacity="0.6" stroke-width="1.3"><line x1="858.3" y1="239.60" x2="858.3" y2="251.20"/><line x1="855.8" y1="239.60" x2="860.8" y2="239.60"/><line x1="855.8" y1="251.20" x2="860.8" y2="251.20"/></g>
<circle cx="858.3" cy="245.40" r="1.8" fill="#2ca02c"/>
<text x="879.20" y="249.80" font-size="11.3" text-anchor="start" fill="#333333" textLength="92.46" lengthAdjust="spacingAndGlyphs" >100000 samples</text>
</svg>
<div class="sub" style="left:252.3px;top:308.5px;">(a)</div>
<div class="sub" style="left:744.9px;top:308.5px;">(b)</div>
<div class="cap">
<div class="ln" style="top:354.2px;word-spacing:-0.45px;">Figure 7: <b>The number of poisoned samples is the key factor determining attack success in API</b></div>
<div class="ln" style="top:382.1px;word-spacing:0.00px;"><b>fine-tuning.</b> Fine-tuning <span class="mono">GPT&#8722;3.5&#8722;Turbo</span> via the OpenAI API with different amounts of clean</div>
<div class="ln" style="top:410.1px;word-spacing:-1.28px;">data (colour) randomly intermixed with different amounts of poisoned samples (x-axis) has minimal</div>
<div class="ln" style="top:437.8px;word-spacing:-1.79px;">effect on ASR (y-axis). Each datapoint represents a separate fine-tuning experiment and we highlight</div>
<div class="ln" style="top:465px;text-align:left;text-align-last:left;">the median of 5 experiments per datapoint.</div>
</div>
</body></html>
